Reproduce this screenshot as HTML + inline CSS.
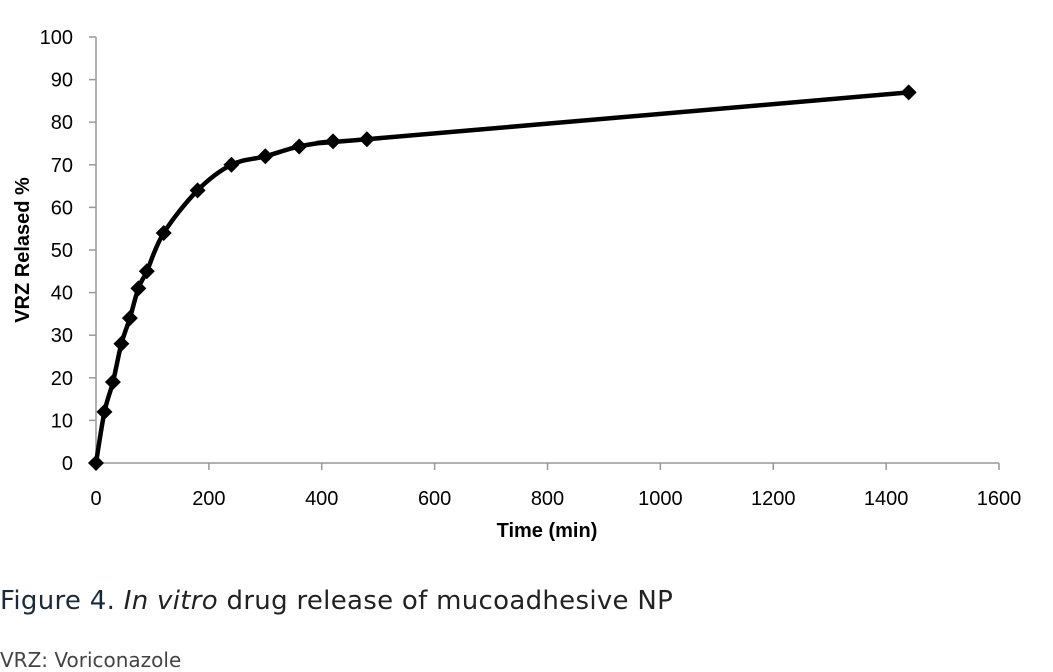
<!DOCTYPE html>
<html><head><meta charset="utf-8"><style>
body{margin:0;background:#fff;width:1053px;height:672px;overflow:hidden;font-family:"Liberation Sans",sans-serif;}
svg{position:absolute;left:0;top:0}
svg text{font-family:"Liberation Sans",sans-serif}
.cap{position:absolute;left:0;font-family:"DejaVu Sans","Liberation Sans",sans-serif;color:#222;white-space:nowrap}
</style></head><body>
<svg width="1053" height="560">
<g id="axes"></g><g id="series"></g>
<text x="0" y="0" transform="translate(29,250) rotate(-90)" text-anchor="middle" font-weight="bold" font-size="20">VRZ Relased %</text>
<text x="547" y="537" text-anchor="middle" font-weight="bold" font-size="20">Time (min)</text>
</svg>
<div class="cap" style="top:586px;font-size:26px;letter-spacing:0.3px"><span style="color:#1b2a3a">Figure 4.</span> <i>In vitro</i> drug release of mucoadhesive NP</div>
<div class="cap" style="top:648px;font-size:20px;color:#444">VRZ: Voriconazole</div>
<script>
const times=[0,15,30,45,60,75,90,120,180,240,300,360,420,480,1440];
const released=[0,12,19,28,34,41,45,54,64,70,72,74.3,75.5,76,87];
const xTicks=[0,200,400,600,800,1000,1200,1400,1600];
const yTicks=[0,10,20,30,40,50,60,70,80,90,100];
const X=v=>96+v*(999-96)/1600, Y=v=>463-v*(463-37)/100;
const NS='http://www.w3.org/2000/svg';
function mk(t,a,p){const e=document.createElementNS(NS,t);for(const k in a)e.setAttribute(k,a[k]);p.appendChild(e);return e;}
const ax=document.getElementById('axes'),se=document.getElementById('series');
let e=mk('line',{x1:96,y1:37,x2:96,y2:463,stroke:'#999','stroke-width':1.5},ax);

e=mk('line',{x1:96,y1:463,x2:999,y2:463,stroke:'#999','stroke-width':1.5},ax);

yTicks.forEach(v=>{mk('line',{x1:89,x2:96,y1:Y(v),y2:Y(v),stroke:'#999','stroke-width':1.5},ax);
const t=mk('text',{x:73,y:Y(v)+7,'text-anchor':'end','font-size':20},ax);t.textContent=v;
});
xTicks.forEach(v=>{mk('line',{x1:X(v),x2:X(v),y1:463,y2:470,stroke:'#999','stroke-width':1.5},ax);
const t=mk('text',{x:X(v),y:505,'text-anchor':'middle','font-size':20},ax);t.textContent=v;
});
const P=times.map((t,i)=>[X(t),Y(released[i])]);
let d='M'+P[0][0]+','+P[0][1];
for(let i=0;i<P.length-1;i++){const p0=P[Math.max(0,i-1)],p1=P[i],p2=P[i+1],p3=P[Math.min(P.length-1,i+2)];
const c1=[p1[0]+(p2[0]-p0[0])/6,p1[1]+(p2[1]-p0[1])/6],c2=[p2[0]-(p3[0]-p1[0])/6,p2[1]-(p3[1]-p1[1])/6];
d+=' C'+c1+' '+c2+' '+p2;}
e=mk('path',{d:d,fill:'none',stroke:'#000','stroke-width':4.5},se);

P.forEach(p=>{const m=mk('path',{d:`M${p[0]},${p[1]-8} L${p[0]+8},${p[1]} L${p[0]},${p[1]+8} L${p[0]-8},${p[1]} Z`,fill:'#000'},se);
});
</script>
</body></html>
